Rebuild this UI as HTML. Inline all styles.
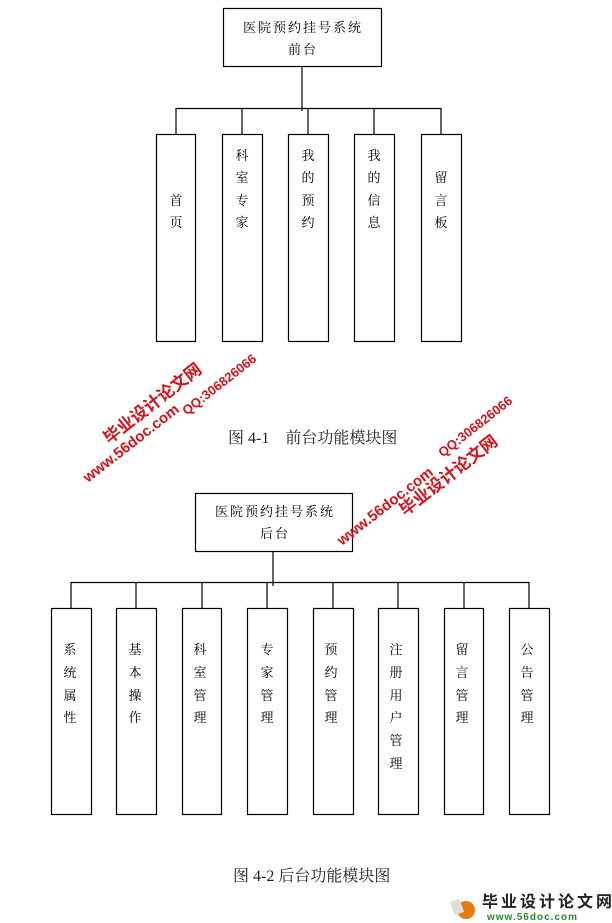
<!DOCTYPE html>
<html><head><meta charset="utf-8"><style>
html,body{margin:0;padding:0;background:#fff;}
svg{display:block}
</style></head><body>
<svg width="612" height="923" xmlns="http://www.w3.org/2000/svg" font-family="'Liberation Serif','Noto Serif CJK SC',serif">
<g fill="none" stroke="#000" stroke-width="1.2">
<rect x="223.5" y="8.5" width="158" height="58"/>
<line x1="302" y1="66" x2="302" y2="111"/>
<line x1="176" y1="108.5" x2="441" y2="108.5"/>
<line x1="176" y1="108" x2="176" y2="134"/>
<line x1="242" y1="108" x2="242" y2="134"/>
<line x1="308" y1="108" x2="308" y2="134"/>
<line x1="374" y1="108" x2="374" y2="134"/>
<line x1="441" y1="108" x2="441" y2="134"/>
<rect x="156.5" y="134.5" width="39" height="207"/>
<rect x="222.5" y="134.5" width="40" height="207"/>
<rect x="288.5" y="134.5" width="40" height="207"/>
<rect x="354.5" y="134.5" width="40" height="207"/>
<rect x="421.5" y="134.5" width="40" height="207"/>

<rect x="195.5" y="493.5" width="157" height="58"/>
<line x1="273" y1="551" x2="273" y2="586"/>
<line x1="71" y1="582.5" x2="529" y2="582.5"/>
<line x1="71" y1="582" x2="71" y2="608"/>
<line x1="136" y1="582" x2="136" y2="608"/>
<line x1="202" y1="582" x2="202" y2="608"/>
<line x1="267" y1="582" x2="267" y2="608"/>
<line x1="333" y1="582" x2="333" y2="608"/>
<line x1="398" y1="582" x2="398" y2="608"/>
<line x1="464" y1="582" x2="464" y2="608"/>
<line x1="529" y1="582" x2="529" y2="608"/>
<rect x="51.5" y="608.5" width="40" height="206"/>
<rect x="116.5" y="608.5" width="40" height="206"/>
<rect x="182.5" y="608.5" width="39" height="206"/>
<rect x="247.5" y="608.5" width="40" height="206"/>
<rect x="313.5" y="608.5" width="40" height="206"/>
<rect x="378.5" y="608.5" width="40" height="206"/>
<rect x="444.5" y="608.5" width="39" height="206"/>
<rect x="509.5" y="608.5" width="40" height="206"/>
</g>
<g font-size="13" fill="#000" text-anchor="middle" letter-spacing="2">
<text x="303" y="32">医院预约挂号系统</text>
<text x="303" y="54">前台</text>
<text x="275" y="516">医院预约挂号系统</text>
<text x="275" y="538">后台</text>
</g>
<g font-size="13" fill="#000" text-anchor="middle">
<text x="176" y="205">首</text><text x="176" y="227">页</text>
<text x="242" y="160">科</text><text x="242" y="182">室</text><text x="242" y="205">专</text><text x="242" y="227">家</text>
<text x="308" y="160">我</text><text x="308" y="182">的</text><text x="308" y="205">预</text><text x="308" y="227">约</text>
<text x="374" y="160">我</text><text x="374" y="182">的</text><text x="374" y="205">信</text><text x="374" y="227">息</text>
<text x="441" y="182">留</text><text x="441" y="205">言</text><text x="441" y="227">板</text>
</g>
<g font-size="13" fill="#000" text-anchor="middle">
<text x="70" y="654">系</text><text x="70" y="677">统</text><text x="70" y="700">属</text><text x="70" y="722">性</text>
<text x="135" y="654">基</text><text x="135" y="677">本</text><text x="135" y="700">操</text><text x="135" y="722">作</text>
<text x="200" y="654">科</text><text x="200" y="677">室</text><text x="200" y="700">管</text><text x="200" y="722">理</text>
<text x="267" y="654">专</text><text x="267" y="677">家</text><text x="267" y="700">管</text><text x="267" y="722">理</text>
<text x="331" y="654">预</text><text x="331" y="677">约</text><text x="331" y="700">管</text><text x="331" y="722">理</text>
<text x="396" y="654">注</text><text x="396" y="677">册</text><text x="396" y="700">用</text><text x="396" y="722">户</text><text x="396" y="745">管</text><text x="396" y="768">理</text>
<text x="462" y="654">留</text><text x="462" y="677">言</text><text x="462" y="700">管</text><text x="462" y="722">理</text>
<text x="527" y="654">公</text><text x="527" y="677">告</text><text x="527" y="700">管</text><text x="527" y="722">理</text>
</g>
<text x="228" y="443" font-size="16" fill="#222">图 4-1　前台功能模块图</text>
<text x="233" y="881" font-size="16" fill="#222">图 4-2  后台功能模块图</text>
<g fill="#d4141a" font-weight="bold" font-family="'Liberation Sans','Noto Sans CJK SC',sans-serif" text-anchor="middle">
<text transform="translate(156,408) rotate(-38)" font-size="17">毕业设计论文网</text>
<text transform="translate(222,388) rotate(-38)" font-size="13">QQ:306826066</text>
<text transform="translate(134,447) rotate(-38)" font-size="15">www.56doc.com</text>
<text transform="translate(388,510) rotate(-38)" font-size="15">www.56doc.com</text>
<text transform="translate(478,430) rotate(-38)" font-size="13">QQ:306826066</text>
<text transform="translate(452,480) rotate(-38)" font-size="17">毕业设计论文网</text>
</g>
<g font-family="'Liberation Sans','Noto Sans CJK SC',sans-serif" font-weight="bold">
<circle cx="466" cy="910" r="9" fill="#e87a10"/>
<rect x="452" y="900" width="10" height="14" fill="#ddd" transform="rotate(-20 457 907)"/>
<text x="482" y="907" font-size="16" fill="#222" letter-spacing="3">毕业设计论文网</text>
<text x="487" y="920" font-size="10" fill="#2a8a2a" letter-spacing="1">www.56doc.com</text>
</g>
</svg>
</body></html>
